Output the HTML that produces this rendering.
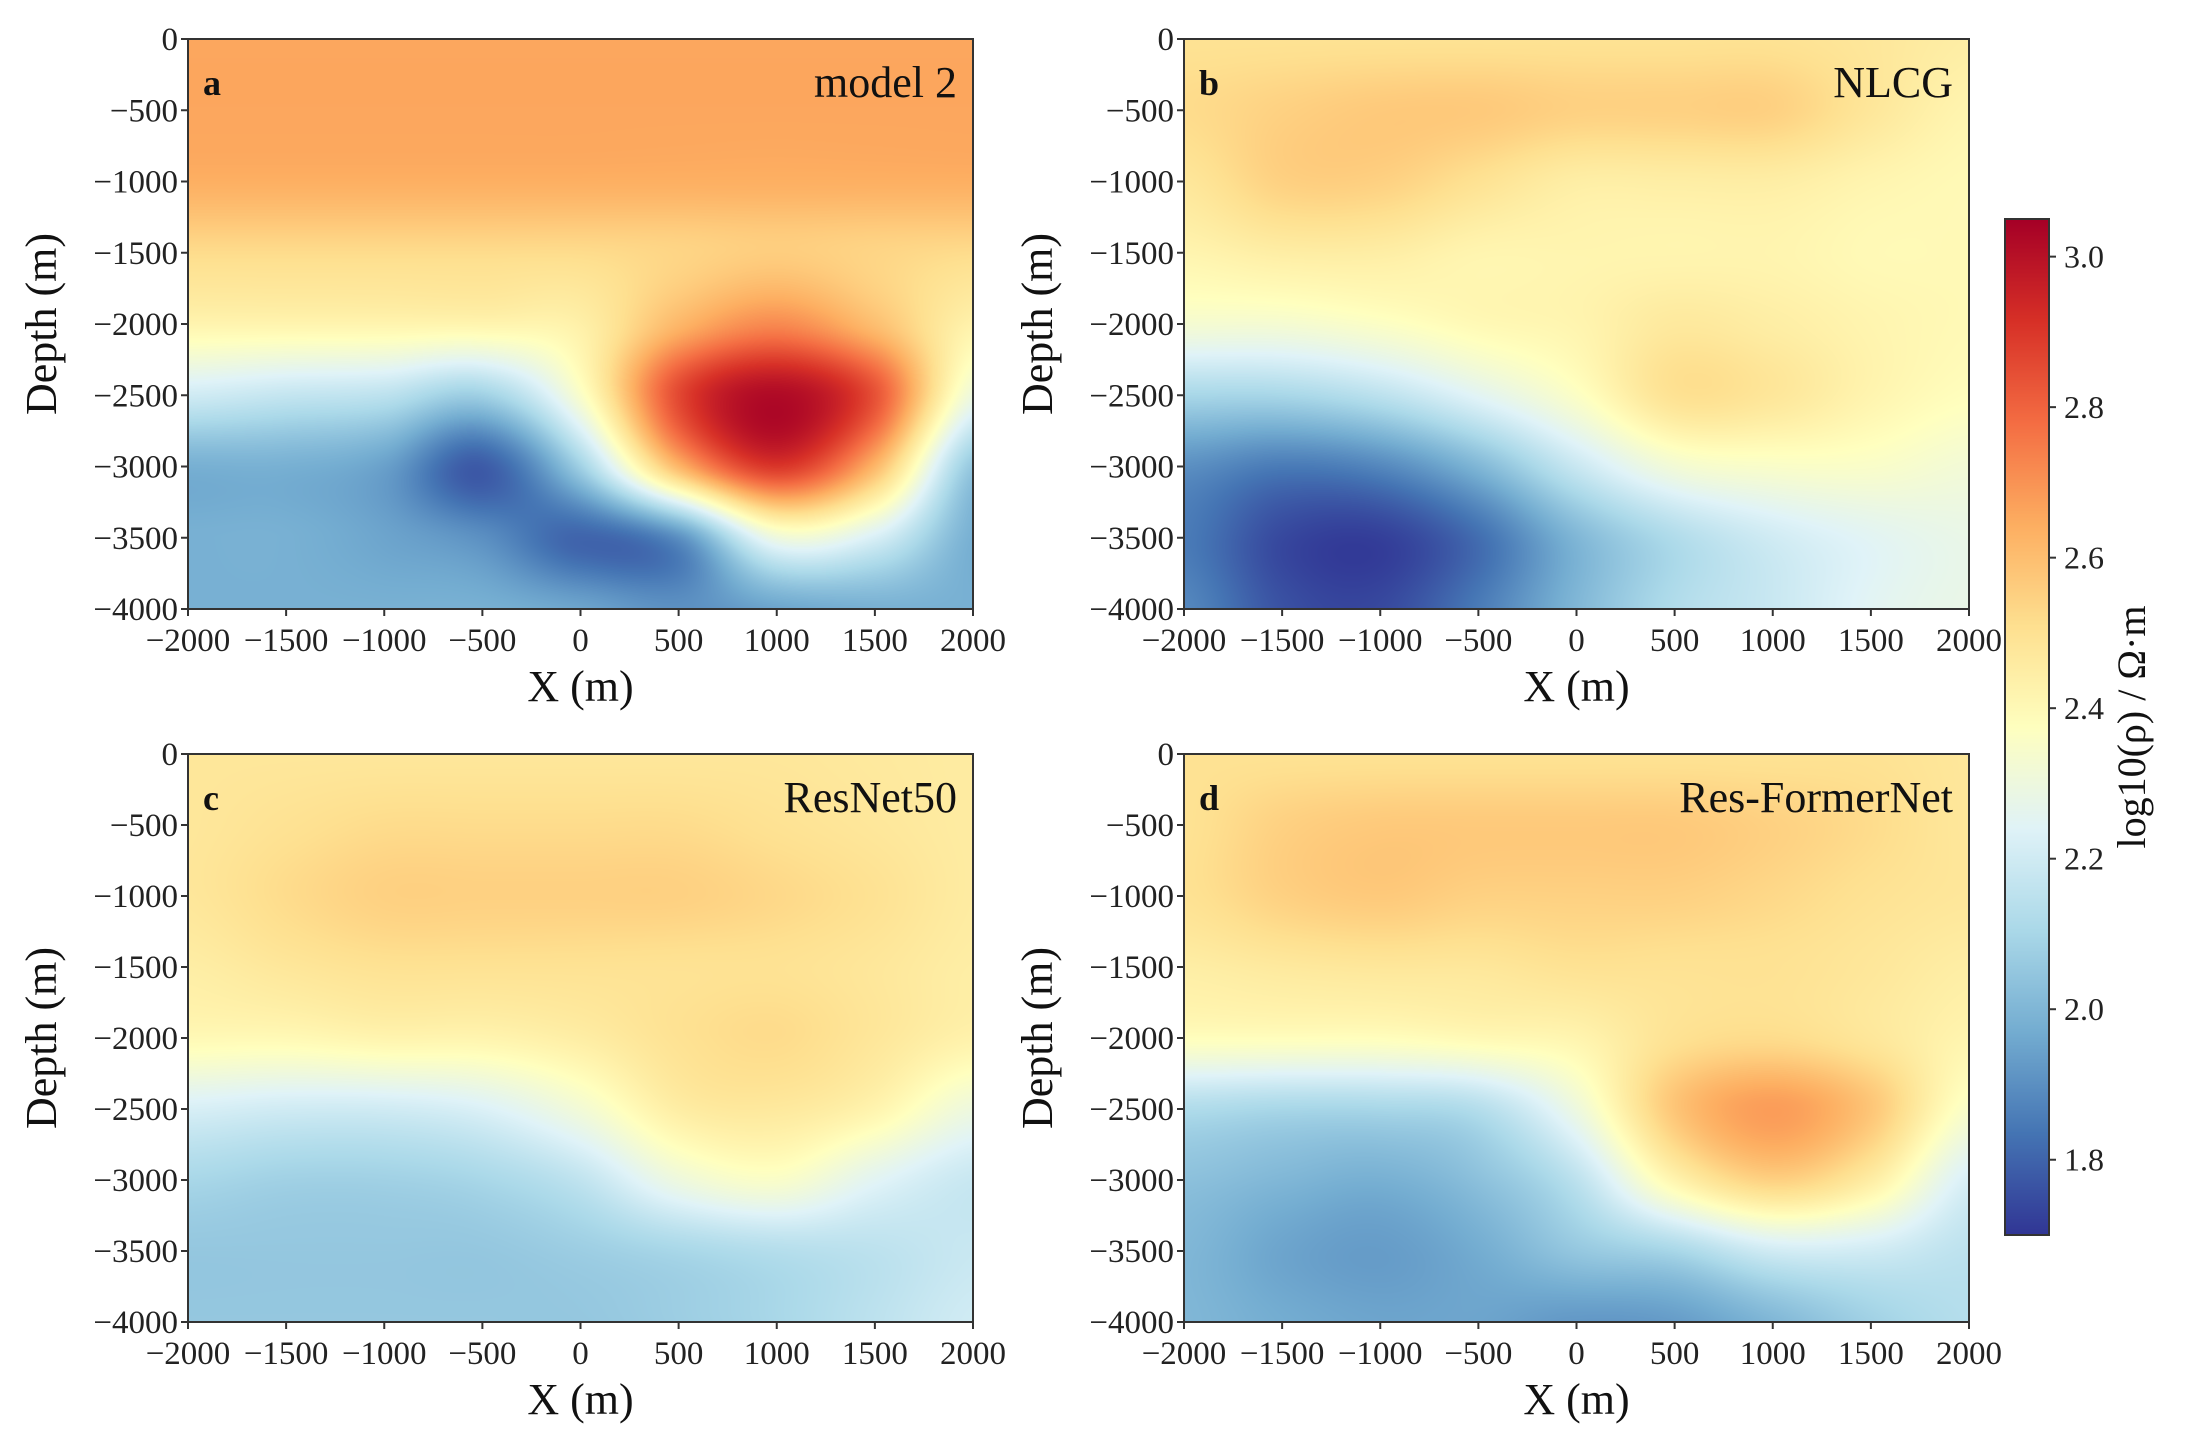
<!DOCTYPE html>
<html><head><meta charset="utf-8">
<style>
body{margin:0;background:#fff;}
#root{position:relative;width:2189px;height:1450px;overflow:hidden;background:#fff;font-family:"Liberation Serif",serif;}
canvas{position:absolute;}
svg{position:absolute;left:0;top:0;}
</style></head>
<body>
<div id="root">
<canvas id="ca" width="785" height="570" style="left:188px;top:39px"></canvas>
<canvas id="cb" width="785" height="570" style="left:1184px;top:39px"></canvas>
<canvas id="cc" width="785" height="568" style="left:188px;top:754px"></canvas>
<canvas id="cd" width="785" height="568" style="left:1184px;top:754px"></canvas>
<canvas id="cbar" width="44" height="1016" style="left:2005px;top:219px"></canvas>
<svg id="ov" width="2189" height="1450"></svg>
</div>
<script>
// grid coordinates
const xGrid = [-2000,-1500,-1000,-500,0,500,1000,1500,2000];
const depthGrid = [0,-500,-1000,-1500,-2000,-2500,-3000,-3500,-4000];
const xTicks = [-2000,-1500,-1000,-500,0,500,1000,1500,2000];
const yTicks = [0,-500,-1000,-1500,-2000,-2500,-3000,-3500,-4000];
const cbarTicks = [1.8,2.0,2.2,2.4,2.6,2.8,3.0];
const vMin = 1.7, vMax = 3.05;
const panelLetters = ["a","b","c","d"];
const panelTitles = ["model 2","NLCG","ResNet50","Res-FormerNet"];
// log10 resistivity values, rows = depth, cols = x
const model2 = [
[2.66,2.66,2.66,2.66,2.66,2.66,2.66,2.66,2.66],
[2.66,2.66,2.66,2.66,2.66,2.66,2.66,2.66,2.66],
[2.64,2.64,2.64,2.64,2.64,2.64,2.64,2.64,2.64],
[2.52,2.52,2.52,2.52,2.52,2.54,2.56,2.54,2.52],
[2.42,2.42,2.42,2.42,2.44,2.62,2.72,2.6,2.43],
[2.2,2.17,2.15,2.08,2.35,2.86,3.02,2.84,2.3],
[1.98,1.98,1.94,1.78,2.08,2.62,2.9,2.62,2.05],
[1.98,1.98,1.95,1.9,1.8,1.9,2.3,2.22,1.98],
[1.98,1.98,1.98,1.98,1.95,1.9,1.95,1.98,1.98]];
const nlcg = [
[2.5,2.5,2.5,2.5,2.5,2.5,2.5,2.48,2.45],
[2.52,2.55,2.57,2.57,2.55,2.55,2.55,2.48,2.42],
[2.48,2.55,2.55,2.5,2.45,2.45,2.45,2.42,2.4],
[2.42,2.45,2.45,2.42,2.42,2.42,2.42,2.4,2.4],
[2.33,2.33,2.36,2.4,2.42,2.47,2.45,2.42,2.4],
[2.1,2.1,2.15,2.25,2.36,2.5,2.48,2.42,2.38],
[1.9,1.85,1.88,2.0,2.18,2.32,2.35,2.35,2.32],
[1.85,1.74,1.72,1.82,2.0,2.12,2.2,2.25,2.28],
[1.88,1.76,1.74,1.85,2.0,2.12,2.18,2.25,2.28]];
const resnet50 = [
[2.48,2.48,2.48,2.48,2.48,2.48,2.48,2.47,2.46],
[2.48,2.5,2.52,2.52,2.52,2.52,2.5,2.48,2.46],
[2.48,2.52,2.55,2.55,2.55,2.55,2.53,2.5,2.46],
[2.45,2.48,2.5,2.5,2.5,2.5,2.5,2.48,2.45],
[2.4,2.4,2.42,2.42,2.45,2.5,2.52,2.48,2.43],
[2.22,2.2,2.2,2.23,2.32,2.45,2.47,2.42,2.3],
[2.1,2.08,2.08,2.1,2.16,2.3,2.35,2.25,2.18],
[2.05,2.05,2.05,2.05,2.07,2.1,2.13,2.15,2.18],
[2.05,2.05,2.05,2.05,2.05,2.07,2.1,2.15,2.2]];
const resFormer = [
[2.5,2.5,2.5,2.5,2.5,2.5,2.5,2.5,2.48],
[2.5,2.55,2.57,2.57,2.57,2.57,2.55,2.52,2.48],
[2.5,2.55,2.57,2.55,2.55,2.55,2.53,2.5,2.48],
[2.45,2.47,2.48,2.48,2.5,2.5,2.5,2.48,2.45],
[2.38,2.38,2.38,2.4,2.42,2.5,2.52,2.48,2.42],
[2.12,2.1,2.1,2.13,2.3,2.58,2.68,2.58,2.35],
[2.03,2.0,1.98,2.03,2.15,2.42,2.55,2.45,2.22],
[2.0,1.95,1.93,1.97,2.05,2.1,2.2,2.2,2.15],
[2.0,1.97,1.95,1.95,1.92,1.93,2.0,2.08,2.13]];
const fields = [model2, nlcg, resnet50, resFormer];

const cmapStops = ["#313695","#4575b4","#74add1","#abd9e9","#e0f3f8","#ffffbf","#fee090","#fdae61","#f46d43","#d73027","#a50026"].map(h=>[parseInt(h.slice(1,3),16),parseInt(h.slice(3,5),16),parseInt(h.slice(5,7),16)]);
function cmap(v){
  let t=(v-vMin)/(vMax-vMin); t=Math.max(0,Math.min(1,t));
  const p=t*10, i=Math.min(9,Math.floor(p)), f=p-i;
  const a=cmapStops[i], b=cmapStops[i+1];
  return [a[0]+(b[0]-a[0])*f, a[1]+(b[1]-a[1])*f, a[2]+(b[2]-a[2])*f];
}
function cr(p0,p1,p2,p3,t){return 0.5*((2*p1)+(-p0+p2)*t+(2*p0-5*p1+4*p2-p3)*t*t+(-p0+3*p1-3*p2+p3)*t*t*t);}
function sample(F,gx,gy){
  const n=F[0].length-1, m=F.length-1;
  const i=Math.min(n-1,Math.floor(gx)), j=Math.min(m-1,Math.floor(gy));
  const tx=gx-i, ty=gy-j;
  const g=(r,c)=>F[Math.max(0,Math.min(m,r))][Math.max(0,Math.min(n,c))];
  const rows=[];
  for(let r=j-1;r<=j+2;r++) rows.push(cr(g(r,i-1),g(r,i),g(r,i+1),g(r,i+2),tx));
  return cr(rows[0],rows[1],rows[2],rows[3],ty);
}
const xToG = x => (x - xGrid[0])/(xGrid[xGrid.length-1]-xGrid[0])*(xGrid.length-1);
const dToG = d => (depthGrid[0]-d)/(depthGrid[0]-depthGrid[depthGrid.length-1])*(depthGrid.length-1);
["ca","cb","cc","cd"].forEach((id,k)=>{
  const c=document.getElementById(id), ctx=c.getContext("2d");
  const W=c.width,H=c.height, img=ctx.createImageData(W,H);
  for(let py=0;py<H;py++){
    const d=0-(py+0.5)/H*4000;
    for(let px=0;px<W;px++){
      const x=-2000+(px+0.5)/W*4000;
      const col=cmap(sample(fields[k],xToG(x),dToG(d)));
      const o=(py*W+px)*4; img.data[o]=col[0];img.data[o+1]=col[1];img.data[o+2]=col[2];img.data[o+3]=255;
    }
  }
  ctx.putImageData(img,0,0);
});
(function(){
  const c=document.getElementById("cbar"),ctx=c.getContext("2d");
  for(let py=0;py<c.height;py++){const v=vMax-(py+0.5)/c.height*(vMax-vMin);const col=cmap(v);ctx.fillStyle=`rgb(${col[0]|0},${col[1]|0},${col[2]|0})`;ctx.fillRect(0,py,c.width,1);}
})();

const NS="http://www.w3.org/2000/svg", ov=document.getElementById("ov");
function mk(tag,attrs,text){const e=document.createElementNS(NS,tag);for(const k in attrs)e.setAttribute(k,attrs[k]);if(text!==undefined)e.textContent=text;ov.appendChild(e);return e;}
const panels=[{l:188,t:39,w:785,h:570},{l:1184,t:39,w:785,h:570},{l:188,t:754,w:785,h:568},{l:1184,t:754,w:785,h:568}];
const fmt=v=>v<0?"\u2212"+Math.abs(v):String(v);
panels.forEach((p,k)=>{
  const sx=x=>p.l+(x+2000)/4000*p.w, sy=d=>p.t+(-d)/4000*p.h;
  const fr=mk("rect",{x:p.l,y:p.t,width:p.w,height:p.h,fill:"none",stroke:"#333",'stroke-width':2});
  
  
  xTicks.forEach(v=>{
    const t=mk("line",{x1:sx(v),x2:sx(v),y1:p.t+p.h,y2:p.t+p.h+7,stroke:"#333",'stroke-width':2});
    
    
    const l=mk("text",{x:sx(v),y:p.t+p.h+42,'text-anchor':'middle','font-size':33,fill:'#222'},fmt(v));
    
    
  });
  yTicks.forEach(v=>{
    const t=mk("line",{x1:p.l-7,x2:p.l,y1:sy(v),y2:sy(v),stroke:"#333",'stroke-width':2});
    
    
    const l=mk("text",{x:p.l-10,y:sy(v)+11,'text-anchor':'end','font-size':33,fill:'#222'},fmt(v));
    
    
  });
  const xl=mk("text",{x:p.l+p.w/2,y:p.t+p.h+92,'text-anchor':'middle','font-size':44,fill:'#111'},"X (m)");
  
  
  const cy=p.t+p.h/2, cx=p.l-132;
  const yl=mk("text",{x:cx,y:cy,'text-anchor':'middle','font-size':44,fill:'#111',transform:`rotate(-90 ${cx} ${cy})`},"Depth (m)");
  
  
  const pl=mk("text",{x:p.l+15,y:p.t+56,'font-size':36,'font-weight':'bold',fill:'#111'},panelLetters[k]);
  
  
  const pt=mk("text",{x:p.l+p.w-16,y:p.t+58,'text-anchor':'end','font-size':44,fill:'#111'},panelTitles[k]);
  
  
});
// colorbar axis
const cbTop=219,cbH=1016,cbL=2005,cbW=44;
const cbY=v=>cbTop+(vMax-v)/(vMax-vMin)*cbH;
const cbf=mk("rect",{x:cbL,y:cbTop,width:cbW,height:cbH,fill:"none",stroke:"#333",'stroke-width':2});


cbarTicks.forEach(v=>{
  const t=mk("line",{x1:cbL+cbW,x2:cbL+cbW+7,y1:cbY(v),y2:cbY(v),stroke:"#333",'stroke-width':2});
  
  
  const l=mk("text",{x:cbL+cbW+15,y:cbY(v)+11,'font-size':32,fill:'#222'},v.toFixed(1));
  
  
});
const cbt=mk("text",{x:2145,y:727,'text-anchor':'middle','font-size':40,fill:'#111',transform:'rotate(-90 2145 727)'},"log10(\u03c1) / \u03a9\u00b7m");


</script>
</body></html>
